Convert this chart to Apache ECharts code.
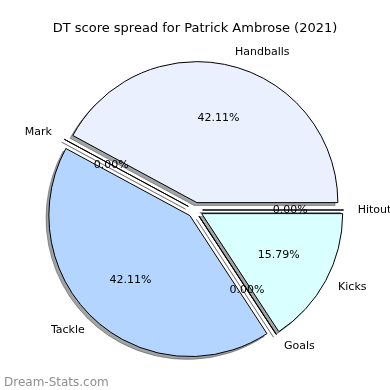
<!DOCTYPE html>
<html>
<head>
<meta charset="utf-8">
<script src="https://cdn.jsdelivr.net/npm/echarts@6/dist/echarts.min.js"></script>
<style>html,body{margin:0;padding:0;background:#fff;}#c{width:390px;height:390px;}</style>
</head>
<body>
<div id="c"></div>
<script>
const categories = ['Handballs', 'Mark', 'Tackle', 'Goals', 'Kicks', 'Hitout'];
const values = [8, 0, 8, 0, 3, 0];
const sliceColors = ['#EAF0FE', '#C8E0FF', '#B4D5FF', '#C8F0FF', '#D9FFFF', '#E0F0FF'];
const titleText = 'DT score spread for Patrick Ambrose (2021)';
const watermark = 'Dream-Stats.com';

const total = values.reduce((a, b) => a + b, 0);
const CX = 195, CY = 210, R = 141, EXPLODE = 7.6, SH = 2.8;
const font = 'DejaVu Sans';

function mkData(colorFn, borderFn) {
  return categories.map((name, i) => ({
    name: name,
    value: values[i],
    selected: true,
    itemStyle: { color: colorFn(i), borderColor: borderFn(i) }
  }));
}

const chart = echarts.init(document.getElementById('c'), null, { renderer: 'canvas' });
chart.setOption({
  animation: false,
  backgroundColor: '#ffffff',
  title: [
    { text: titleText, left: 'center', top: 17,
      textStyle: { fontFamily: font, fontSize: 13, fontWeight: 'normal', color: '#000' } },
    { text: watermark, left: -1, top: 372,
      textStyle: { fontFamily: font, fontSize: 12, fontWeight: 'normal', color: '#8f8f8f' } }
  ],
  series: [
    { // shadow
      type: 'pie', silent: true, center: [CX - SH, CY + SH], radius: [0, R],
      startAngle: 0, clockwise: false, selectedMode: 'multiple', selectedOffset: EXPLODE,
      avoidLabelOverlap: false, label: { show: false }, labelLine: { show: false },
      emphasis: { disabled: true },
      itemStyle: { borderWidth: 1 },
      data: mkData(() => 'rgba(70,72,76,0.5)', () => 'rgba(70,72,76,0.5)')
    },
    { // main wedges with names
      type: 'pie', silent: true, center: [CX, CY], radius: [0, R],
      startAngle: 0, clockwise: false, selectedMode: 'multiple', selectedOffset: EXPLODE,
      avoidLabelOverlap: false,
      emphasis: { disabled: true },
      itemStyle: { borderWidth: 1, borderColor: '#000' },
      label: { show: true, position: 'outside', formatter: '{b}', alignTo: 'none',
        distanceToLabelLine: 0, fontFamily: font, fontSize: 11, color: '#000',
        padding: [3, 0, 0, 0] },
      labelLine: { show: false, length: R * 0.1, length2: 0 },
      data: mkData(i => sliceColors[i], () => '#000')
    },
    { // percent labels
      type: 'pie', silent: true, center: [CX, CY], radius: [0, R * 1.2],
      startAngle: 0, clockwise: false, selectedMode: 'multiple', selectedOffset: EXPLODE,
      avoidLabelOverlap: false,
      emphasis: { disabled: true },
      itemStyle: { borderWidth: 0 },
      label: { show: true, position: 'inside',
        formatter: p => (p.value / total * 100).toFixed(2) + '%',
        fontFamily: font, fontSize: 11, color: '#000', padding: [4, 0, 0, 0] },
      labelLine: { show: false },
      data: mkData(() => 'rgba(0,0,0,0)', () => 'rgba(0,0,0,0)')
    }
  ]
});
</script>
</body>
</html>
